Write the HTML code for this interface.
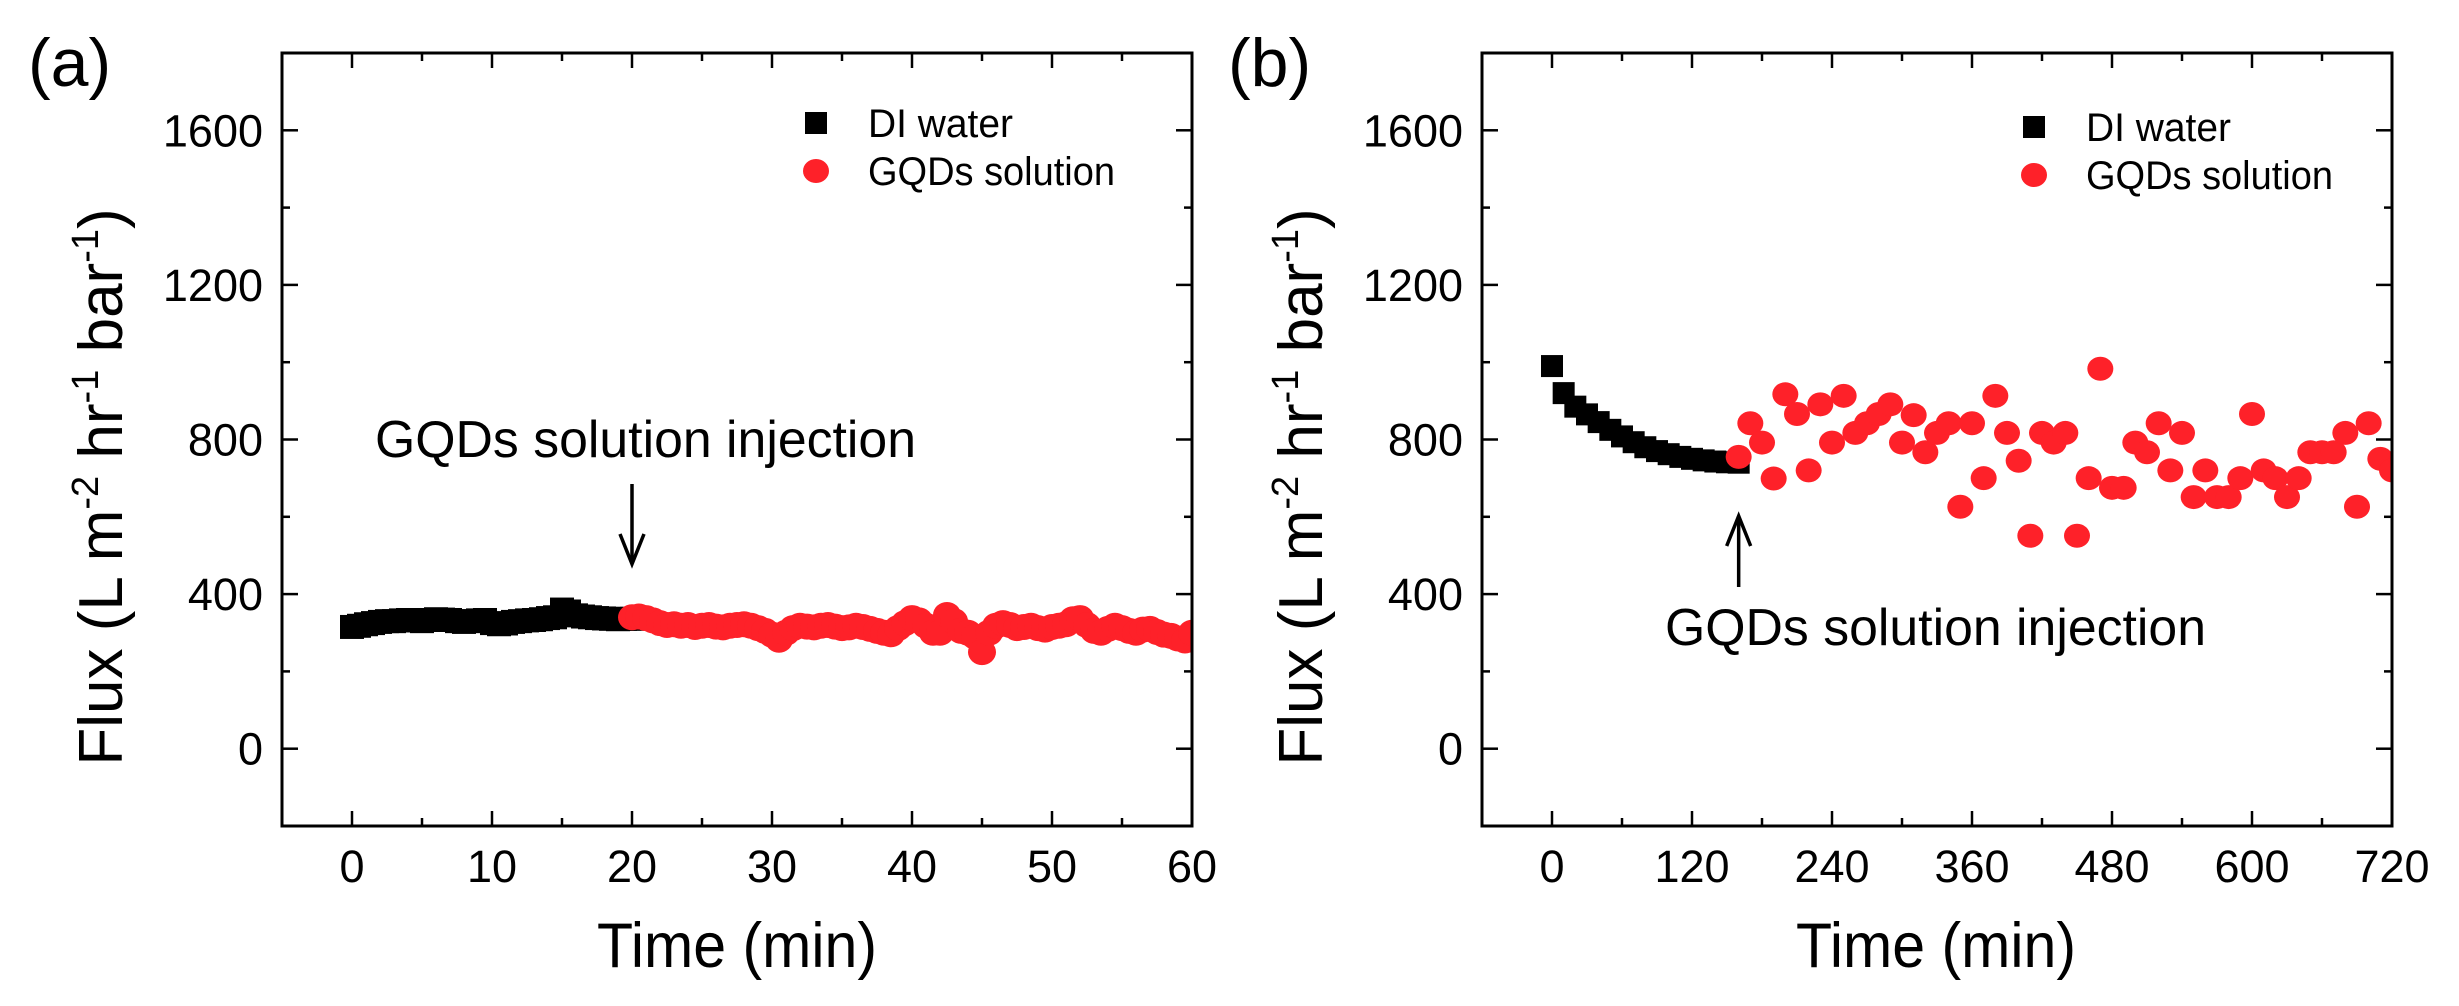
<!DOCTYPE html>
<html><head><meta charset="utf-8">
<style>
html,body{margin:0;padding:0;background:#fff;}
svg{display:block;font-family:"Liberation Sans",Arial,sans-serif;}
</style></head>
<body>
<svg id="fig" width="2459" height="1006" viewBox="0 0 2459 1006" xmlns="http://www.w3.org/2000/svg">
<defs>
<clipPath id="clipA"><rect x="282" y="53" width="910" height="773"/></clipPath>
<clipPath id="clipB"><rect x="1482" y="53" width="910" height="773"/></clipPath>
</defs>
</svg>
<script>
// ---- Panel (a) data ----
const aDiTimes = [];
for (let i = 0; i <= 40; i++) aDiTimes.push(i * 0.5);
const aDiValues = [315,318,322,325,328,330,330,332,333,332,330,333,335,334,333,330,328,330,332,333,325,322,324,328,330,332,333,335,338,340,360,355,345,342,340,338,337,336,335,336,336];
const aGqdTimes = [];
for (let i = 0; i <= 80; i++) aGqdTimes.push(20 + i * 0.5);
const aGqdValues = [340,342,338,332,325,320,322,318,320,315,318,320,316,314,318,320,322,318,312,305,295,282,300,312,318,316,314,318,320,316,312,314,318,315,310,305,300,296,312,325,338,332,318,300,300,346,330,305,300,290,250,300,318,325,320,312,315,318,312,308,315,318,322,335,338,320,305,300,310,318,312,305,300,308,310,302,295,292,285,280,300];
const aXTicks = [0,10,20,30,40,50,60];
// ---- Panel (b) data ----
const bDiTimes = [0,10,20,30,40,50,60,70,80,90,100,110,120,130,140,150,160];
const bDiValues = [990,920,885,865,845,825,808,793,780,770,762,755,750,746,743,741,740];
const bGqdTimes = [];
for (let t = 160; t <= 720; t += 10) bGqdTimes.push(t);
const bGqdValues = [755,842,792,699,917,866,720,891,792,913,817,842,866,891,792,863,767,817,842,626,842,700,913,817,745,551,817,792,817,551,700,983,675,675,792,767,842,720,817,651,720,651,651,700,866,720,700,651,700,767,767,767,817,626,842,750,720];
const bXTicks = [0,120,240,360,480,600,720];
const yTicks = [0,400,800,1200,1600];

const NS = "http://www.w3.org/2000/svg";
const svg = document.getElementById('fig');
function mk(tag, attrs, parent){ const e=document.createElementNS(NS,tag); for(const k in attrs) e.setAttribute(k,attrs[k]); (parent||svg).appendChild(e); return e; }

function panel(o){
  const g = mk('g',{});
  
  
  const L=o.left, R=o.left+910, T=53, B=826;
  const xs = v => L + (v - o.xmin)/(o.xmax - o.xmin)*(R-L);
  const ys = v => B - (v - (-200))/(2000)*(B-T);
  const dg = mk('g',{'clip-path':'url(#'+o.clip+')'},g);
  
  
  o.diT.forEach((t,i)=>{
    const r = mk('rect',{x:xs(t)-o.sq/2,y:ys(o.diV[i])-o.sq/2,width:o.sq,height:o.sq,fill:'#000'},dg);
    
    
  });
  o.gT.forEach((t,i)=>{
    const c = mk('ellipse',{cx:xs(t),cy:ys(o.gV[i]),rx:o.cr,ry:o.cr-1,fill:'#fe2129'},dg);
    
    
  });
  const fr = mk('rect',{x:L,y:T,width:R-L,height:B-T,fill:'none',stroke:'#000','stroke-width':3},g);
  
  
  for (let v=o.xmin; v<=o.xmax+1e-9; v+=o.minor){
    const major = o.xticks.includes(v);
    const len = major?15:8;
    const x = xs(v);
    mk('line',{x1:x,y1:B,x2:x,y2:B-len,stroke:'#000','stroke-width':2.5},g);
    mk('line',{x1:x,y1:T,x2:x,y2:T+len,stroke:'#000','stroke-width':2.5},g);
  }
  o.xticks.forEach(v=>{
    const t = mk('text',{x:xs(v),y:882,'font-size':45,'text-anchor':'middle',fill:'#000'},g);
    t.textContent = String(v);
    
    
  });
  for (let v=-200; v<=1800; v+=200){
    const major = yTicks.includes(v);
    const len = major?16:8;
    const y = ys(v);
    mk('line',{x1:L,y1:y,x2:L+len,y2:y,stroke:'#000','stroke-width':2.5},g);
    mk('line',{x1:R,y1:y,x2:R-len,y2:y,stroke:'#000','stroke-width':2.5},g);
  }
  yTicks.forEach(v=>{
    const t = mk('text',{x:L-19,y:ys(v)+16,'font-size':45,'text-anchor':'end',fill:'#000'},g);
    t.textContent = String(v);
    
    
  });
  const xt = mk('text',{x:o.xtitleX,y:967,'font-size':63,'text-anchor':'middle',fill:'#000',textLength:280,lengthAdjust:'spacingAndGlyphs'},g);
  xt.textContent = 'Time (min)';
  
  
  const yt = mk('text',{x:0,y:0,'font-size':62,'text-anchor':'middle',fill:'#000',transform:'translate('+(o.ytitleX)+',487) rotate(-90)'},g);
  yt.innerHTML = 'Flux (L m<tspan font-size="38" dy="-24">-2</tspan><tspan dy="24"> hr</tspan><tspan font-size="38" dy="-24">-1</tspan><tspan dy="24"> bar</tspan><tspan font-size="38" dy="-24">-1</tspan><tspan dy="24">)</tspan>';
  
  
  const lg = mk('g',{},g);
  
  
  mk('rect',{x:o.legX-11,y:o.legY-11,width:22,height:22,fill:'#000'},lg);
  const l1 = mk('text',{x:o.legX+52,y:o.legY+14,'font-size':40,fill:'#000',textLength:145,lengthAdjust:'spacingAndGlyphs'},lg);
  l1.textContent='DI water';
  
  
  mk('ellipse',{cx:o.legX,cy:o.legY+48,rx:13,ry:12,fill:'#fe2129'},lg);
  const l2 = mk('text',{x:o.legX+52,y:o.legY+62,'font-size':40,fill:'#000',textLength:247,lengthAdjust:'spacingAndGlyphs'},lg);
  l2.textContent='GQDs solution';
  
  
  const an = mk('text',{x:o.annX,y:o.annY,'font-size':52,fill:'#000',textLength:541,lengthAdjust:'spacingAndGlyphs'},g);
  an.textContent='GQDs solution injection';
  
  
  const ax = xs(o.arrowT);
  const ar = mk('g',{},g);
  
  
  mk('line',{x1:ax,y1:o.arrFrom,x2:ax,y2:o.arrTo,stroke:'#000','stroke-width':3.5},ar);
  const d = o.arrTo>o.arrFrom ? -1 : 1;
  mk('polyline',{points:(ax-12)+','+(o.arrTo+d*30)+' '+ax+','+o.arrTo+' '+(ax+12)+','+(o.arrTo+d*30),fill:'none',stroke:'#000','stroke-width':3.5},ar);
  const pl = mk('text',{x:o.labelX,y:86,'font-size':68,fill:'#000'},g);
  pl.textContent = o.label;
  
  
}

panel({name:'panel-a',left:282,xmin:-5,xmax:60,minor:5,xticks:aXTicks,clip:'clipA',sq:24,cr:14,
  diT:aDiTimes,diV:aDiValues,gT:aGqdTimes,gV:aGqdValues,xtitleX:737,ytitleX:122,
  legX:816,legY:123,annX:375,annY:457,arrowT:20,arrFrom:484,arrTo:564,labelX:28,label:'(a)'});
panel({name:'panel-b',left:1482,xmin:-60,xmax:720,minor:60,xticks:bXTicks,clip:'clipB',sq:22,cr:13,
  diT:bDiTimes,diV:bDiValues,gT:bGqdTimes,gV:bGqdValues,xtitleX:1936,ytitleX:1322,
  legX:2034,legY:127,annX:1665,annY:645,arrowT:160,arrFrom:587,arrTo:516,labelX:1228,label:'(b)'});
</script>
</body></html>
